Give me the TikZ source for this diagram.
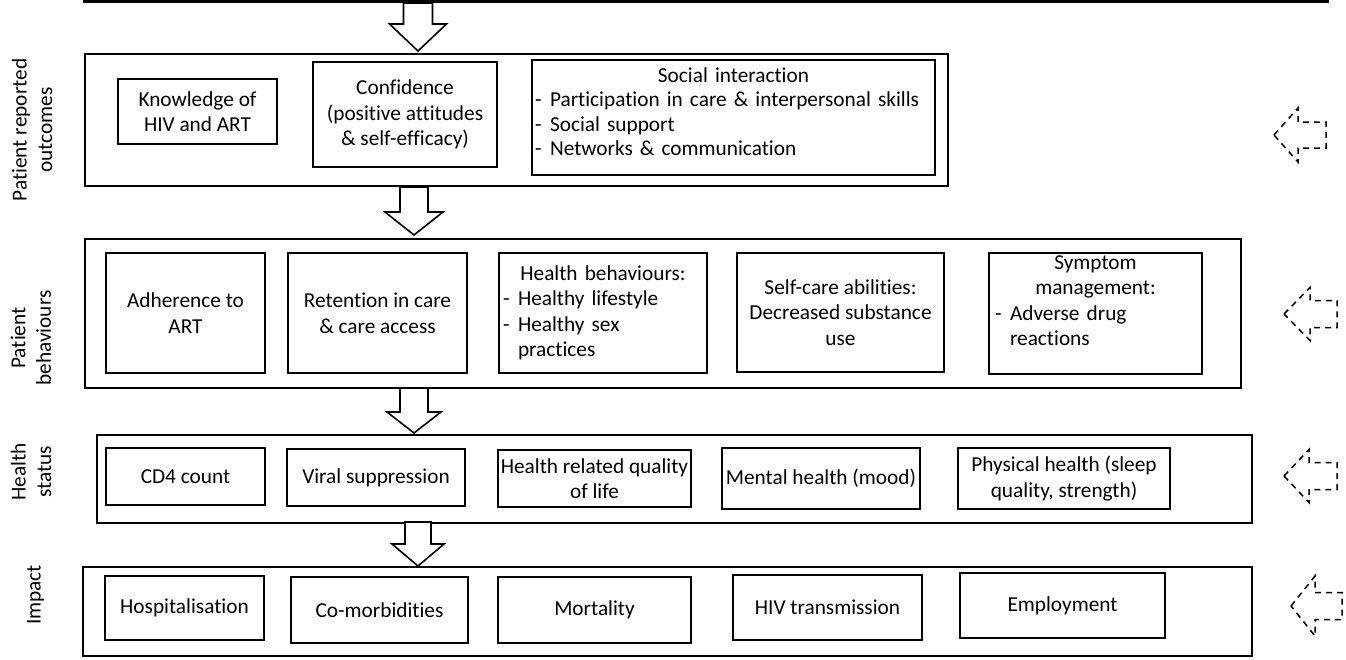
\documentclass[tikz,border=0pt]{standalone}
\usepackage{fontspec}
\setmainfont{Carlito}[Ligatures={NoCommon}]
\newcommand\bodyfont{\fontsize{21.3}{25.5}\selectfont}
\newlength\itmw
\setlength\itmw{15pt}
\newcommand\itm[1]{\makebox[\itmw][l]{-}#1}
% hollow block arrow pointing down: centre x, top, head base, tip, shaft half width, head half width
\newcommand\downblock[6]{%
  \draw[blockarrow] (#1-#5,#2) -- (#1+#5,#2) -- (#1+#5,#3) -- (#1+#6,#3) -- (#1,#4)
    -- (#1-#6,#3) -- (#1-#5,#3) -- cycle;}
% dashed block arrow pointing left: tip x, centre y, head base x, right x, shaft half height, head half height
\newcommand\leftblock[6]{%
  \draw[feedback] (#1,#2) -- (#3,#2-#6) -- (#3,#2-#5) -- (#4,#2-#5) -- (#4,#2+#5)
    -- (#3,#2+#5) -- (#3,#2+#6) -- cycle;}
\begin{document}
\begin{tikzpicture}[x=1pt,y=-1pt,
  frame/.style={draw, line width=1.8pt, inner sep=0pt},
  box/.style={draw, line width=1.8pt, align=center, inner sep=0pt, font=\bodyfont},
  mixed/.style={box, align=left, inner xsep=#1},
  side/.style={rotate=90, align=center, font=\bodyfont, inner sep=0pt},
  blockarrow/.style={draw, fill=white, line width=1.6pt, line join=miter},
  feedback/.style={draw, line width=1.5pt, dash pattern=on 6pt off 5pt, line join=miter}]
\useasboundingbox (0,0) rectangle (1346,659);

% heavy rule along the top
\coordinate (ruleL) at (83,1.5);
\coordinate (ruleR) at (1329,1.5);
\draw[line width=3pt] (ruleL) -- (ruleR);

% group frames
\node[frame, minimum width=863pt, minimum height=132pt] (pro) at (516.5,120) {};
\node[frame, minimum width=1156pt, minimum height=149pt] (pb) at (663,313.5) {};
\node[frame, minimum width=1155pt, minimum height=88pt] (hs) at (674.5,479) {};
\node[frame, minimum width=1169pt, minimum height=89pt] (imp) at (667.5,611.5) {};

% side labels
\node[side] (lpro) at (32,130) {Patient reported\\outcomes};
\node[side] (lpb) at (31,338) {Patient\\behaviours};
\node[side] (lhs) at (31,472) {Health\\status};
\node[side] (limp) at (35.5,595) {Impact};

% patient reported outcomes
\node[box, minimum width=159pt, minimum height=65pt] (know) at (197.5,111.5) {Knowledge of\\HIV and ART};
\node[box, minimum width=184pt, minimum height=105pt] (conf) at (405,114.5) {Confidence\\(positive attitudes\\\& self-efficacy)};
\node[mixed=3pt, text width=397pt, minimum width=403pt, minimum height=115pt] (soc) at (733.5,117.5)
  {\makebox[\linewidth]{Social interaction}\\[-1pt]
   \itm{Participation in care \& interpersonal skills}\\[-1pt]
   \itm{Social support}\\[-1pt]
   \itm{Networks \& communication}\\[-14pt]\mbox{}};

% patient behaviours
\node[box, minimum width=159pt, minimum height=120pt] (adh) at (185.5,313) {Adherence to\\ART};
\node[box, minimum width=179pt, minimum height=120pt] (ret) at (377.5,313) {Retention in care\\\& care access};
\node[mixed=4pt, text width=200pt, minimum width=208pt, minimum height=120pt] (hb) at (603,313)
  {\makebox[\linewidth]{Health behaviours:}\\
   \itm{Healthy lifestyle}\\
   \itm{Healthy sex}\\
   \hspace*{\itmw}practices};
\node[box, minimum width=207pt, minimum height=119pt] (sc) at (840.5,312.5) {Self-care abilities:\\Decreased substance\\use};
\node[mixed=6pt, text width=201pt, minimum width=213pt, minimum height=121pt] (sym) at (1095.5,313.5)
  {\makebox[\linewidth]{Symptom}\\
   \makebox[\linewidth]{management:}\\
   \itm{Adverse drug}\\
   \hspace*{\itmw}reactions\\\mbox{}};

% health status
\node[box, minimum width=159pt, minimum height=57pt] (cd4) at (185.5,476.5) {CD4 count};
\node[box, minimum width=178pt, minimum height=57pt] (vir) at (376,477.5) {Viral suppression};
\node[box, minimum width=193pt, minimum height=57pt] (hrq) at (594.5,478.5) {Health related quality\\of life};
\node[box, minimum width=198pt, minimum height=61pt] (men) at (821,478.5) {Mental health (mood)};
\node[box, minimum width=212pt, minimum height=61pt] (phy) at (1064,478.5) {Physical health (sleep\\quality, strength)};

% impact
\node[box, minimum width=159pt, minimum height=64pt] (hosp) at (184.5,608) {Hospitalisation};
\node[box, minimum width=177pt, minimum height=66pt] (com) at (379.5,610) {Co-morbidities};
\node[box, minimum width=193pt, minimum height=66pt] (mor) at (594.5,610) {Mortality};
\node[box, minimum width=189pt, minimum height=65pt] (hivt) at (827.5,607.5) {HIV transmission};
\node[box, minimum width=205pt, minimum height=65pt] (emp) at (1062.5,605.5) {Employment};

% flow between the groups
\downblock{418}{3}{24}{51}{14.5}{28.5}
\downblock{414}{187}{212}{235}{14}{29}
\downblock{414}{388}{412}{433}{14}{27}
\downblock{418}{522}{544}{566}{13}{26}

% feedback arrows on the right
\leftblock{1274}{135}{1298}{1326}{13}{27}
\leftblock{1284}{314}{1310}{1337}{13.5}{26.5}
\leftblock{1284}{476}{1309}{1337}{13.5}{26.5}
\leftblock{1291}{606}{1315}{1342}{13.5}{30}
\end{tikzpicture}
\end{document}
